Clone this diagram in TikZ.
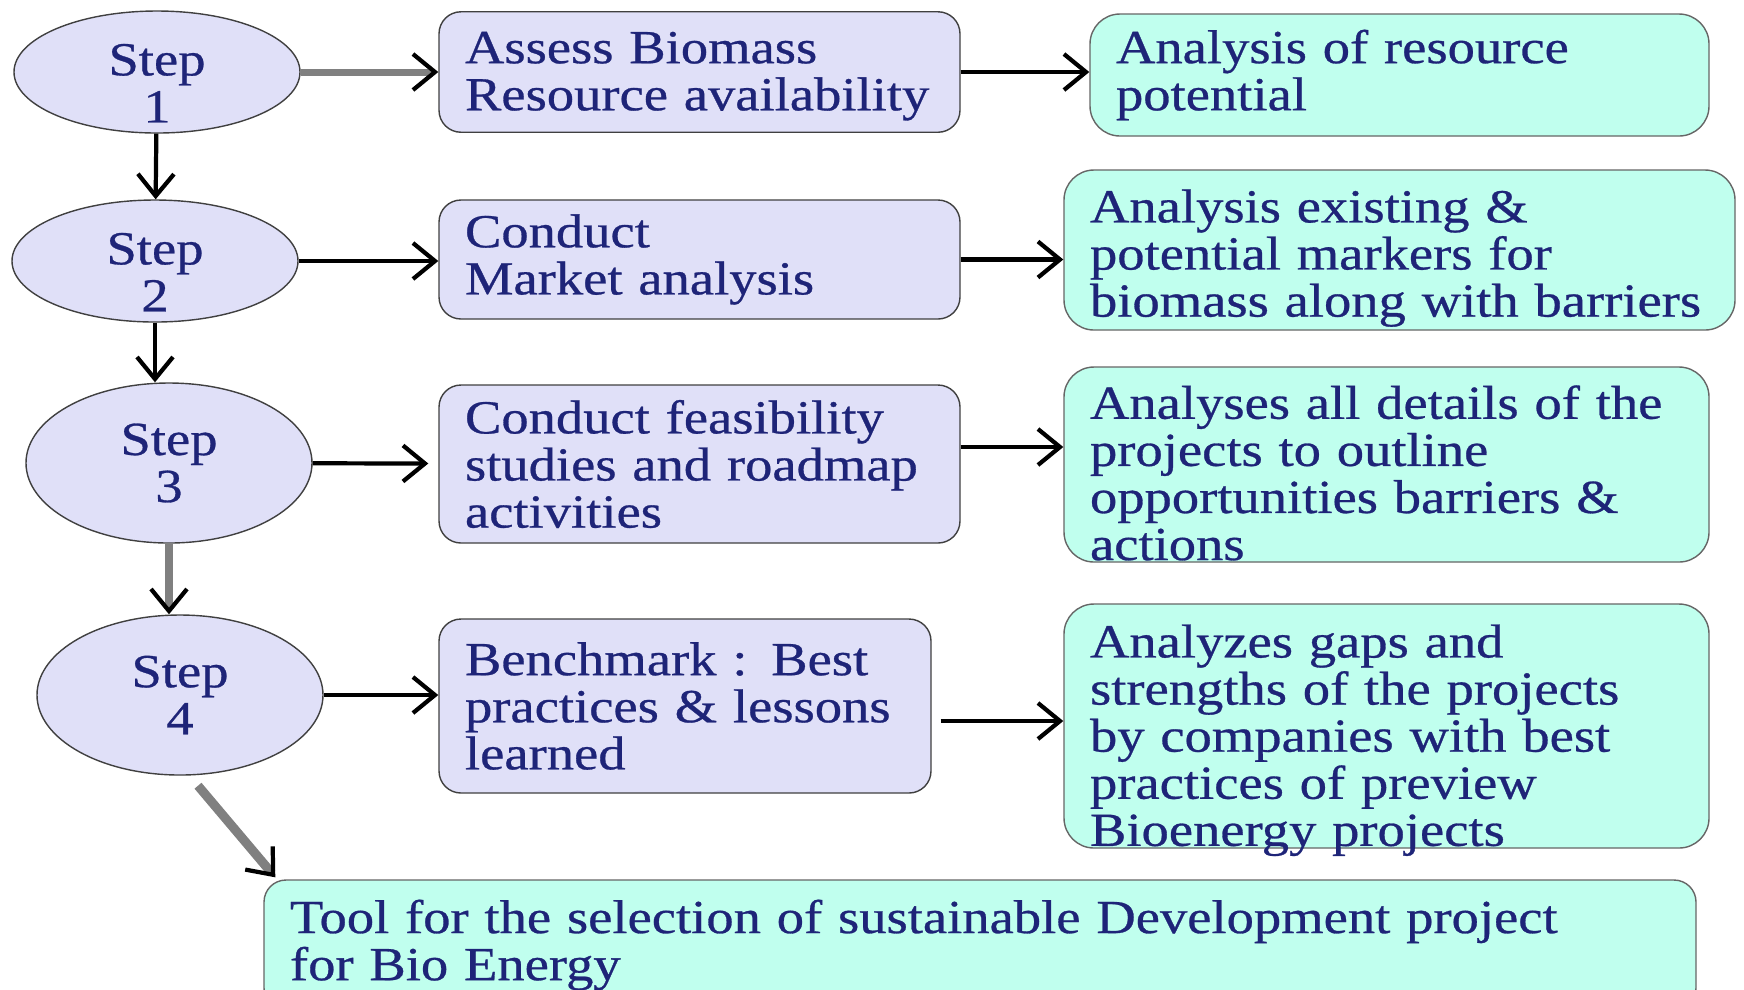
\documentclass[tikz,border=0pt]{standalone}
\usepackage{fontspec}
\setmainfont{Liberation Serif}[FakeStretch=1.15,FakeBold=0.6]
\usetikzlibrary{arrows.meta,shapes.geometric}
\definecolor{steptxt}{RGB}{30,36,120}
\definecolor{stepfill}{RGB}{224,224,248}
\definecolor{outfill}{RGB}{192,255,238}
% pushes a node's text down a little
\newcommand{\lowr}[1]{\rule{0pt}{\dimexpr9.3pt+#1\relax}}

\begin{document}
\begin{tikzpicture}[
    every node/.style={font=\fontsize{13.5}{13.4}\selectfont, text=steptxt},
    stp/.style={ellipse, draw=black!75, fill=stepfill, inner xsep=0pt, inner ysep=-3pt,
      minimum width=2.86cm, minimum height=1.22cm, align=center},
    act/.style={rectangle, rounded corners=0.22cm, draw=black!75, fill=stepfill,
      align=left, inner xsep=0.26cm},
    res/.style={rectangle, rounded corners=0.3cm, draw=black!60, fill=outfill,
      align=left, inner xsep=0.26cm, inner ysep=-0.3cm},
    arr/.style={-{Straight Barb[length=2.2mm,width=3.6mm]}, line width=1.2pt},
    garr/.style={-{Straight Barb[length=2.2mm,width=3.6mm,line width=1.2pt,black]},
      draw=gray, line width=2pt}]
    \useasboundingbox (0,0) rectangle (17.44,-9.89);

    % the four steps
    \node[stp] (e1) at (1.57,-0.72) {\lowr{6pt}Step\\1};
    \node[stp] (e2) at (1.55,-2.61) {\lowr{6pt}Step\\2};
    \node[stp, minimum height=1.6cm] (e3) at (1.69,-4.63) {Step\\3};
    \node[stp, minimum height=1.6cm] (e4) at (1.80,-6.95) {Step\\4};

    % what is done in each step
    \node[act, text width=4.69cm, minimum height=1.18cm] (b1) at (6.995,-0.72)
        {\lowr{2pt}Assess Biomass\\Resource availability};
    \node[act, text width=4.69cm, minimum height=1.19cm] (b2) at (6.995,-2.595)
        {Conduct\\Market analysis};
    \node[act, text width=4.69cm, minimum height=1.58cm] (b3) at (6.995,-4.64)
        {Conduct feasibility\\studies and roadmap\\activities};
    \node[act, text width=4.40cm, minimum height=1.74cm] (b4) at (6.85,-7.06)
        {Benchmark : Best\\practices \& lessons\\learned};

    % and what comes out of it
    \node[res, text width=5.67cm, minimum height=1.22cm] (c1) at (13.995,-0.75)
        {Analysis of resource\\potential};
    \node[res, text width=6.19cm, minimum height=1.60cm] (c2) at (13.995,-2.50)
        {\lowr{4.7pt}Analysis existing \&\\potential markers for\\biomass along with barriers};
    \node[res, text width=5.93cm, minimum height=1.95cm] (c3) at (13.865,-4.645)
        {\lowr{5pt}Analyses all details of the\\projects to outline\\opportunities barriers \&\\actions};
    \node[res, text width=5.93cm, minimum height=2.44cm] (c4) at (13.865,-7.26)
        {\lowr{8.2pt}Analyzes gaps and\\strengths of the projects\\by companies with best\\practices of preview\\Bioenergy projects};

    \node[res, rounded corners=0.22cm, text width=13.80cm, minimum height=1.30cm] (tool) at (9.80,-9.45)
        {Tool for the selection of sustainable Development project\\for Bio Energy};

    % step to step
    \draw[arr] (e1) -- (e2);
    \draw[arr] (e2.south) -- (e2.south |- e3.north);
    \draw[garr] (e3.south) -- (e3.south |- e4.north);
    \draw[garr, line width=2.6pt] ([xshift=0.18cm,yshift=-0.1cm]e4.south) -- ([xshift=0.12cm,yshift=0.02cm]tool.north west);

    % step to task to result
    \draw[garr] (e1) -- (b1);
    \draw[arr] (b1.east) -- (b1.east -| c1.west);
    \draw[arr] (e2.east) -- (e2.east -| b2.west);
    \draw[arr] (b2.east) -- (b2.east -| c2.west);
    \draw[arr, shorten >=0.1cm] (e3) -- (b3);
    \draw[arr] ([yshift=0.17cm]b3.east) -- ([yshift=0.17cm]b3.east -| c3.west);
    \draw[arr] (e4.east) -- (e4.east -| b4.west);
    \draw[arr] ([xshift=0.09cm,yshift=-0.15cm]b4.east) -- ([yshift=-0.15cm]b4.east -| c4.west);
\end{tikzpicture}
\end{document}
